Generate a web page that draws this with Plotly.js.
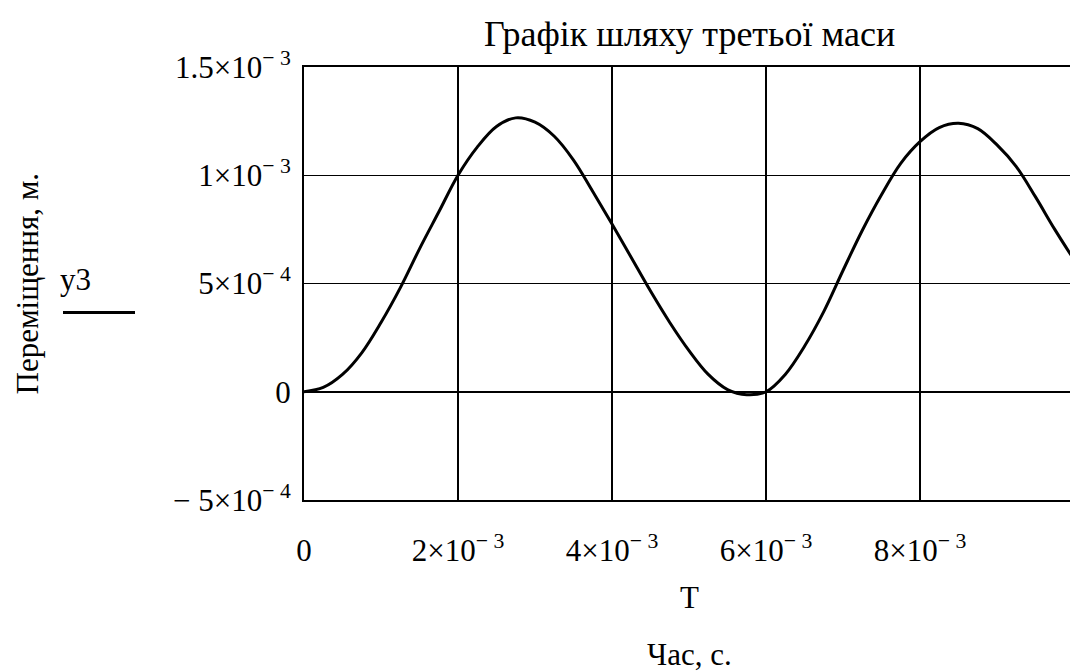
<!DOCTYPE html>
<html>
<head>
<meta charset="utf-8">
<script src="https://cdn.plot.ly/plotly-3.0.1.min.js"></script>
<style>
html,body{margin:0;padding:0;overflow:hidden;background:#fff;}
#chart{width:1080px;height:671px;}
</style>
</head>
<body>
<div id="chart"></div>
<script>
// Time, s
const T = [0, 0.00025, 0.0005, 0.00075, 0.001, 0.00125, 0.0015, 0.00175, 0.002, 0.00225,
  0.0025, 0.00275, 0.003, 0.00325, 0.0035, 0.00375, 0.004, 0.00425, 0.0045, 0.00475,
  0.005, 0.00525, 0.0055, 0.00575, 0.006, 0.00625, 0.0065, 0.00675, 0.007, 0.00725,
  0.0075, 0.00775, 0.008, 0.00825, 0.0085, 0.00875, 0.009, 0.00925, 0.0095, 0.00975, 0.01];
// Displacement of the third mass, m
const y3 = [0, 0.00002, 0.00008, 0.00018, 0.00032, 0.00048, 0.00066, 0.00083, 0.001, 0.00113,
  0.001225, 0.001265, 0.001245, 0.00118, 0.00107, 0.000925, 0.000775, 0.00062, 0.000465, 0.00032,
  0.00019, 0.00008, 0.00001, -0.000014, 0, 0.00008, 0.00021, 0.00037, 0.00056, 0.000745,
  0.00091, 0.001055, 0.001155, 0.00122, 0.00124, 0.001215, 0.00114, 0.00104, 0.0009, 0.00075, 0.00061];

const xTickVals = [0, 0.002, 0.004, 0.006, 0.008];
const xTickText = ["0", "2×10<sup>− 3</sup>", "4×10<sup>− 3</sup>", "6×10<sup>− 3</sup>", "8×10<sup>− 3</sup>"];
const yTickVals = [-0.0005, 0, 0.0005, 0.001, 0.0015];
const yTickText = ["− 5×10<sup>− 4</sup>", "0", "5×10<sup>− 4</sup>", "1×10<sup>− 3</sup>", "1.5×10<sup>− 3</sup>"];

const chartTitle = "Графік шляху третьої маси";
const xVarLabel = "T";
const xAxisLabel = "Час, с.";
const yAxisLabel = "Переміщення, м.";
const seriesName = "y3";

const serif = "Liberation Serif, Times New Roman, serif";

const trace = {
  x: T, y: y3, type: "scatter", mode: "lines", name: seriesName,
  line: {color: "#000", width: 3, shape: "spline", smoothing: 1},
  showlegend: false, hoverinfo: "skip"
};

const layout = {
  width: 1080, height: 671,
  margin: {l: 304, r: 6, t: 67, b: 171},
  paper_bgcolor: "#fff", plot_bgcolor: "#fff",
  showlegend: false,
  xaxis: {
    range: [0, 0.01], tickvals: xTickVals, ticktext: xTickText,
    showgrid: true, gridcolor: "#000", gridwidth: 1.5,
    showline: true, linecolor: "#000", linewidth: 2, mirror: true,
    zeroline: false, ticks: "", ticklabelstandoff: 22,
    tickfont: {family: serif, size: 31, color: "#000"}
  },
  yaxis: {
    range: [-0.0005, 0.0015], tickvals: yTickVals, ticktext: yTickText,
    showgrid: true, gridcolor: "#000", gridwidth: 1.5,
    showline: true, linecolor: "#000", linewidth: 2, mirror: true,
    zeroline: false, ticks: "", ticklabelstandoff: 5,
    tickfont: {family: serif, size: 31, color: "#000"}
  },
  annotations: [
    {text: chartTitle, xref: "paper", yref: "paper", x: 0.5, y: 1, yshift: 33,
     xanchor: "center", yanchor: "middle", showarrow: false,
     font: {family: serif, size: 36, color: "#000"}},
    {text: xVarLabel, xref: "paper", yref: "paper", x: 0.5, y: 0, yshift: -97,
     xanchor: "center", yanchor: "middle", showarrow: false,
     font: {family: serif, size: 31, color: "#000"}},
    {text: xAxisLabel, xref: "paper", yref: "paper", x: 0.5, y: 0, yshift: -154,
     xanchor: "center", yanchor: "middle", showarrow: false,
     font: {family: serif, size: 31, color: "#000"}},
    {text: yAxisLabel, xref: "paper", yref: "paper", x: 0, xshift: -277, y: 0.5,
     xanchor: "center", yanchor: "middle", textangle: -90, showarrow: false,
     font: {family: serif, size: 31, color: "#000"}},
    {text: seriesName, xref: "paper", yref: "paper", x: 0, xshift: -229, y: 0.5, yshift: 4,
     xanchor: "center", yanchor: "middle", showarrow: false,
     font: {family: serif, size: 31, color: "#000"}}
  ],
  shapes: [
    {type: "line", xref: "paper", yref: "paper", xsizemode: "pixel", xanchor: 0,
     ysizemode: "pixel", yanchor: 0.5,
     x0: -241, x1: -169, y0: -29, y1: -29,
     line: {color: "#000", width: 3}}
  ]
};

Plotly.newPlot("chart", [trace], layout, {displayModeBar: false, staticPlot: true});
</script>
</body>
</html>
